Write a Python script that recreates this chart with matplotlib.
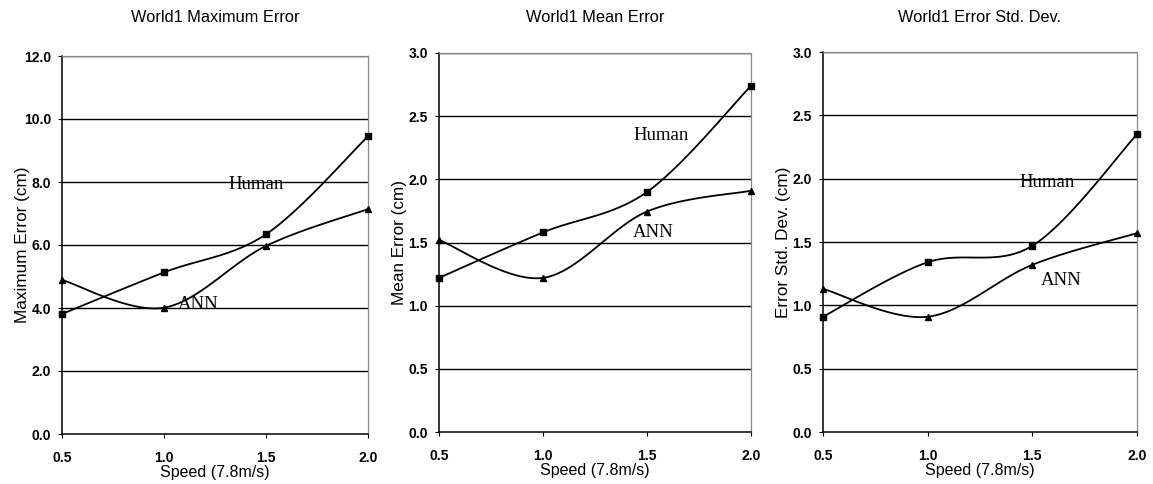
import numpy as np
import matplotlib.pyplot as plt

speed = [0.5, 1.0, 1.5, 2.0]

max_human = [3.81, 5.13, 6.34, 9.45]
max_ann = [4.89, 4.01, 5.97, 7.14]
mean_human = [1.22, 1.58, 1.90, 2.74]
mean_ann = [1.52, 1.22, 1.745, 1.91]
std_human = [0.91, 1.34, 1.47, 2.35]
std_ann = [1.13, 0.91, 1.32, 1.57]

titles = ["World1 Maximum Error", "World1 Mean Error", "World1 Error Std. Dev."]
ylabels = ["Maximum Error (cm)", "Mean Error (cm)", "Error Std. Dev. (cm)"]
ymax = [12.0, 3.0, 3.0]
ystep = [2.0, 0.5, 0.5]
# label positions (data coords) for Human / ANN
human_pos = [(1.45, 7.92), (1.57, 2.35), (1.57, 1.97)]
ann_pos = [(1.17, 4.10), (1.53, 1.58), (1.64, 1.20)]


def smooth(x, y, n=40):
    """Excel-like smoothed line (Catmull-Rom through the points)."""
    x = np.asarray(x, float)
    y = np.asarray(y, float)
    px = np.concatenate([[x[0]], x, [x[-1]]])
    py = np.concatenate([[y[0]], y, [y[-1]]])
    xs, ys = [], []
    t = np.linspace(0, 1, n)
    for i in range(1, len(px) - 2):
        p0 = np.array([px[i], py[i]])
        p3 = np.array([px[i + 1], py[i + 1]])
        p1 = p0 + (np.array([px[i + 1], py[i + 1]]) - np.array([px[i - 1], py[i - 1]])) / 6
        p2 = p3 - (np.array([px[i + 2], py[i + 2]]) - np.array([px[i], py[i]])) / 6
        b = ((1 - t) ** 3)[:, None] * p0 + (3 * (1 - t) ** 2 * t)[:, None] * p1 \
            + (3 * (1 - t) * t ** 2)[:, None] * p2 + (t ** 3)[:, None] * p3
        xs.extend(b[:, 0])
        ys.extend(b[:, 1])
    return xs, ys


fig = plt.figure(figsize=(11.53, 4.84), dpi=100)
plt.rcParams['font.family'] = ['Liberation Sans', 'DejaVu Sans']

boxes = [(62, 368, 56, 434), (439, 751, 53, 432), (823, 1137, 52, 432)]
series = [(max_human, max_ann), (mean_human, mean_ann), (std_human, std_ann)]

for k in range(3):
    l, r, t, b = boxes[k]
    ax = fig.add_axes([l / 1153, 1 - b / 484, (r - l) / 1153, (b - t) / 484])
    hum, ann = series[k]

    ax.set_xlim(0.5, 2.0)
    ax.set_ylim(0, ymax[k])
    ax.set_xticks(speed)
    ax.set_xticklabels(["%.1f" % s for s in speed])
    yt = np.arange(0, ymax[k] + ystep[k] / 2, ystep[k])
    ax.set_yticks(yt)
    ax.set_yticklabels(["%.1f" % v for v in yt])
    for lab in ax.get_xticklabels() + ax.get_yticklabels():
        lab.set_fontweight('bold')
        lab.set_fontsize(10)
    ax.tick_params(direction='out', length=3, width=0.8)
    ax.tick_params(axis='x', pad=9)
    ax.tick_params(axis='y', pad=5)

    for v in yt[1:]:
        ax.axhline(v, color='black', lw=1.0, zorder=1)

    ax.spines['left'].set_color('black')
    ax.spines['bottom'].set_color('black')
    ax.spines['left'].set_linewidth(1.1)
    ax.spines['bottom'].set_linewidth(1.1)
    for s in ['top', 'right']:
        ax.spines[s].set_color('#888888')
        ax.spines[s].set_linestyle((0, (1, 1)))
        ax.spines[s].set_linewidth(0.9)

    hx, hy = smooth(speed, hum)
    ax.plot(hx, hy, color='black', lw=1.3, zorder=3, clip_on=False)
    ax.plot(speed, hum, ls='none', marker='s', ms=3.8, color='black', zorder=4, clip_on=False)
    axx, ay = smooth(speed, ann)
    ax.plot(axx, ay, color='black', lw=1.3, zorder=3, clip_on=False)
    ax.plot(speed, ann, ls='none', marker='^', ms=3.8, color='black', zorder=4, clip_on=False)

    ax.text(human_pos[k][0], human_pos[k][1], "Human", family='Liberation Serif',
            fontsize=13.5, ha='center', va='center', zorder=5)
    ax.text(ann_pos[k][0], ann_pos[k][1], "ANN", family='Liberation Serif',
            fontsize=13.5, ha='center', va='center', zorder=5)

    ax.set_xlabel("Speed (7.8m/s)", fontsize=11.5, labelpad=0)
    ax.set_ylabel(ylabels[k], fontsize=12.3)
    ax.yaxis.set_label_coords(-32 / (r - l), 0.5)
    fig.text((l + r) / 2 / 1153, 1 - 18 / 484, titles[k], fontsize=11.8,
             ha='center', va='center')

fig.savefig("out.png", dpi=100)
